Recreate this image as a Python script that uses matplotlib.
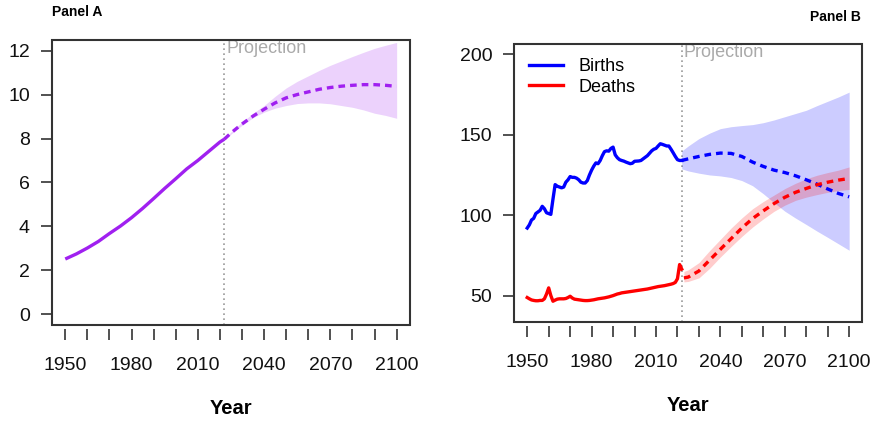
import matplotlib
matplotlib.use('Agg')
import matplotlib.pyplot as plt
from matplotlib.patches import Rectangle

plt.rcParams['font.family'] = ['Liberation Sans', 'DejaVu Sans']

# Panel A: world population (billions)
pop_years = [1950, 1955, 1960, 1965, 1970, 1975, 1980, 1985, 1990, 1995,
             2000, 2005, 2010, 2015, 2020, 2022]
pop_hist = [2.52, 2.75, 3.02, 3.32, 3.68, 4.02, 4.4, 4.82, 5.27, 5.73,
            6.17, 6.62, 7.0, 7.42, 7.84, 7.97]
pop_proj_years = [2022, 2025, 2030, 2035, 2040, 2045, 2050, 2055, 2060, 2065,
                  2070, 2075, 2080, 2085, 2090, 2095, 2100]
pop_median = [7.97, 8.25, 8.66, 9.02, 9.33, 9.62, 9.85, 10.0, 10.12, 10.24,
              10.32, 10.38, 10.42, 10.45, 10.45, 10.42, 10.37]
pop_upper = [7.97, 8.3, 8.75, 9.15, 9.5, 9.92, 10.3, 10.6, 10.85, 11.1,
             11.33, 11.53, 11.73, 11.92, 12.1, 12.24, 12.37]
pop_lower = [7.97, 8.2, 8.6, 8.95, 9.2, 9.38, 9.5, 9.59, 9.62, 9.62,
             9.58, 9.5, 9.42, 9.3, 9.15, 9.05, 8.92]

# Panel B: births and deaths (millions)
hist_years = list(range(1950, 2023))
births_hist = [92, 94, 97, 98, 101, 102, 103, 105.5, 104, 101.5,
               101, 100.5, 110, 119, 118, 117.5, 117, 117.5, 120.5, 122,
               124, 123.5, 123.5, 123, 122, 120.5, 120, 120, 121.5, 125,
               128, 130.5, 132.5, 132, 134, 137, 139.5, 140, 139.8, 141.5,
               142.3, 137.5, 135.7, 134.5, 134, 133.6, 133, 132.5, 132, 132.3,
               133.5, 133.6, 133.7, 134, 135, 136, 137, 138.5, 140, 141,
               141.5, 143, 144.4, 144, 143.5, 143, 143, 141, 138.8, 136.5,
               134.5, 134, 134]
deaths_hist = [48.8, 48, 47.3, 47, 46.8, 46.8, 47, 47, 48, 51,
               54.8, 50, 46.5, 47.2, 47.8, 48, 48, 48, 48.2, 48.8,
               49.6, 48.5, 47.8, 47.6, 47.4, 47.2, 47, 46.9, 46.9, 47,
               47.2, 47.4, 47.7, 48, 48.2, 48.4, 48.6, 48.9, 49.2, 49.6,
               50, 50.5, 51, 51.3, 51.7, 51.9, 52.1, 52.3, 52.5, 52.7,
               52.9, 53.1, 53.3, 53.5, 53.7, 53.9, 54.1, 54.4, 54.7, 55,
               55.3, 55.6, 55.8, 56, 56.2, 56.5, 56.8, 57.1, 57.5, 58.2,
               60.5, 69.3, 66.5]

births_proj_years = [2022, 2025, 2030, 2035, 2040, 2045, 2050, 2055, 2060, 2065,
                     2070, 2075, 2080, 2085, 2090, 2095, 2100]
births_median = [134, 135, 136.5, 137.8, 138.6, 138.4, 136.5, 133, 130.3, 128,
                 126.5, 124.5, 122, 119.3, 116.3, 113.5, 111.4]
births_upper = [139.9, 143, 147.6, 151, 153.8, 155, 155.7, 156.3, 157.5, 159.2,
                161.2, 163.2, 165.2, 168.1, 170.8, 173.5, 176.5]
births_lower = [128.8, 127.5, 126.1, 125, 124.4, 123.4, 121.5, 118.3, 113.3, 107.8,
                102.5, 98.2, 94.2, 90.1, 86.2, 82.2, 78.2]

deaths_proj_years = [2023, 2025, 2030, 2035, 2040, 2045, 2050, 2055, 2060, 2065,
                     2070, 2075, 2080, 2085, 2090, 2095, 2100]
deaths_median = [61, 61.5, 65.3, 72.1, 78.8, 85.4, 92, 97.9, 102.7, 107.2,
                 111.1, 114.2, 116.6, 118.9, 120.5, 121.8, 122.8]
deaths_upper = [65, 66, 70.5, 78, 85, 92, 98.3, 104, 108.5, 112.5,
                116.5, 119.8, 122.6, 124.8, 126.5, 128, 130]
deaths_lower = [58.5, 58.8, 61, 67, 74, 80.5, 86.8, 92.6, 97.7, 102.4,
                106.2, 109.2, 111.2, 112.8, 114.2, 115.3, 116]

x_ticks = list(range(1950, 2101, 10))
x_labels = [str(y) if (y - 1950) % 30 == 0 else '' for y in x_ticks]
proj_start = 2022
dash = (0, (2.0, 1.5))
box_color = '#333333'


def style_axes(ax, ylim, yticks):
    ax.set_xlim(1944, 2106)
    ax.set_ylim(*ylim)
    for s in ax.spines.values():
        s.set_visible(False)
    ax.spines['bottom'].set_position(('outward', 3))
    ax.add_patch(Rectangle((0, 0), 1, 1, transform=ax.transAxes, fill=False,
                           ec=box_color, lw=1.5, clip_on=False, zorder=5))
    ax.set_xticks(x_ticks)
    ax.set_xticklabels(x_labels)
    ax.set_yticks(yticks)
    ax.tick_params(direction='out', length=8, width=1.2, color=box_color,
                   labelsize=14, labelcolor='#111111')
    ax.tick_params(axis='x', pad=12)
    ax.tick_params(axis='y', pad=8)
    ax.set_xlabel('Year', fontsize=14.5, fontweight='bold', labelpad=18)
    # projection marker
    ax.axvline(proj_start, color='#999999', lw=1.2, ls=(0, (1, 2)), zorder=1)
    ax.text(proj_start + 0.8, ylim[1], 'Projection', color='#aaaaaa', fontsize=13,
            ha='left', va='top')


fig = plt.figure(figsize=(8.74, 4.22), dpi=100)

# Panel A
ax1 = fig.add_axes([0.0595, 0.2299, 0.4095, 0.6753])
style_axes(ax1, (-0.48, 12.48), [0, 2, 4, 6, 8, 10, 12])
ax1.fill_between(pop_proj_years, pop_lower, pop_upper, color='#A020F0', alpha=0.2, lw=0)
ax1.plot(pop_years, pop_hist, color='#A020F0', lw=2.4, solid_capstyle='butt')
ax1.plot(pop_proj_years, pop_median, color='#A020F0', lw=2.4, ls=dash)

# Panel B
ax2 = fig.add_axes([0.5885, 0.237, 0.3978, 0.6587])
style_axes(ax2, (33.6, 206.4), [50, 100, 150, 200])
ax2.fill_between(births_proj_years, births_lower, births_upper, color='#0000FF', alpha=0.2, lw=0)
ax2.fill_between(deaths_proj_years, deaths_lower, deaths_upper, color='#FF0000', alpha=0.2, lw=0)
ax2.plot(hist_years, births_hist, color='#0000FF', lw=2.4, label='Births')
ax2.plot(hist_years, deaths_hist, color='#FF0000', lw=2.4, label='Deaths')
ax2.plot(births_proj_years, births_median, color='#0000FF', lw=2.4, ls=dash)
ax2.plot(deaths_proj_years, deaths_median, color='#FF0000', lw=2.4, ls=dash)
ax2.legend(loc='upper left', bbox_to_anchor=(0.042, 0.95), frameon=False, fontsize=13,
           borderpad=0, borderaxespad=0, handlelength=1.9, handletextpad=0.85,
           labelspacing=0.2)

fig.text(52 / 874, 1 - 12 / 422, 'Panel A', fontsize=10, fontweight='bold',
         ha='left', va='center')
fig.text(861 / 874, 1 - 17 / 422, 'Panel B', fontsize=10, fontweight='bold',
         ha='right', va='center')

fig.savefig('out.png', dpi=100)
